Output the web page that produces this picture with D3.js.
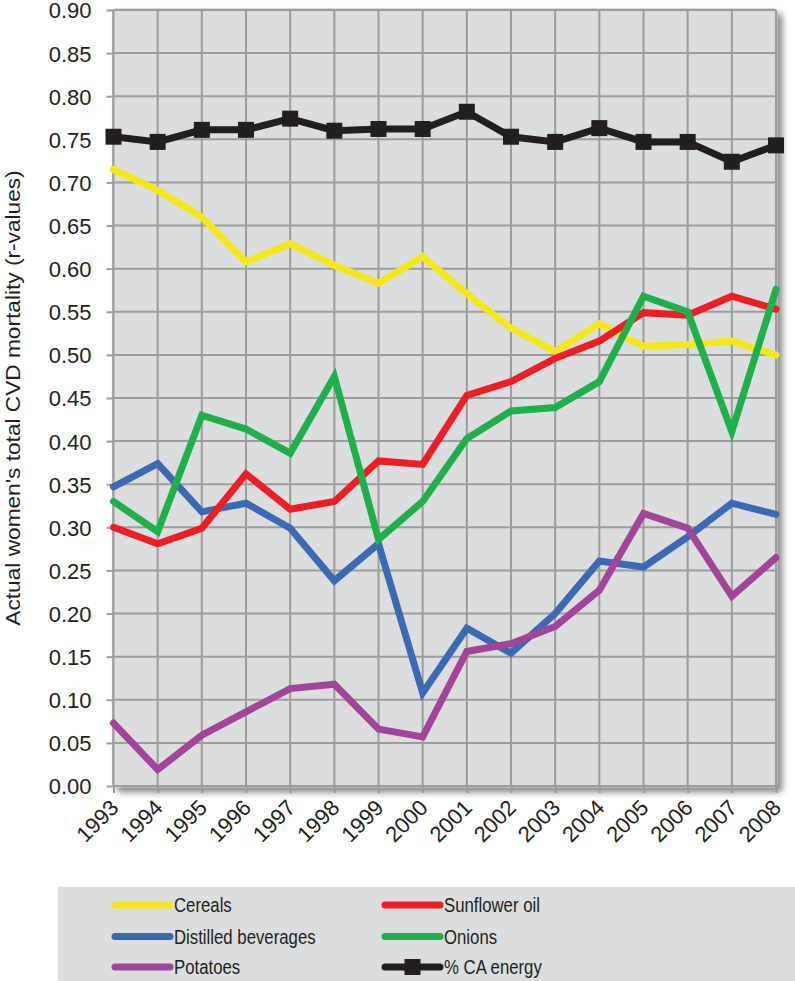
<!DOCTYPE html>
<html>
<head>
<meta charset="utf-8">
<script src="https://cdn.jsdelivr.net/npm/d3@7"></script>
<style>
  html, body { margin: 0; padding: 0; background: #ffffff; }
  svg { display: block; }
  text { font-family: "Liberation Sans", Arial, Helvetica, sans-serif; fill: #231f20; }
</style>
</head>
<body>
<svg id="chart" width="795" height="981"></svg>
<script>
// ---------- DATA ----------
const years = [1993, 1994, 1995, 1996, 1997, 1998, 1999, 2000, 2001, 2002, 2003, 2004, 2005, 2006, 2007, 2008];
const yTicks = [0, 0.05, 0.10, 0.15, 0.20, 0.25, 0.30, 0.35, 0.40, 0.45, 0.50, 0.55, 0.60, 0.65, 0.70, 0.75, 0.80, 0.85, 0.90];

const cereals      = [0.715, 0.691, 0.660, 0.608, 0.629, 0.604, 0.583, 0.614, 0.571, 0.531, 0.504, 0.536, 0.510, 0.512, 0.516, 0.500];
const distilled    = [0.347, 0.374, 0.318, 0.328, 0.299, 0.238, 0.281, 0.108, 0.183, 0.154, 0.200, 0.261, 0.254, 0.289, 0.328, 0.315];
const sunflower    = [0.300, 0.281, 0.299, 0.362, 0.321, 0.330, 0.377, 0.373, 0.453, 0.469, 0.496, 0.516, 0.549, 0.546, 0.568, 0.553];
const onions       = [0.330, 0.295, 0.430, 0.414, 0.386, 0.475, 0.286, 0.330, 0.403, 0.435, 0.439, 0.469, 0.568, 0.550, 0.411, 0.576];
const potatoes     = [0.073, 0.019, 0.059, 0.086, 0.113, 0.118, 0.066, 0.057, 0.156, 0.165, 0.185, 0.227, 0.316, 0.299, 0.220, 0.265];
const caEnergy     = [0.753, 0.747, 0.761, 0.761, 0.774, 0.760, 0.762, 0.762, 0.782, 0.753, 0.747, 0.763, 0.747, 0.747, 0.724, 0.743];

const seriesNames  = ["Cereals", "Distilled beverages", "Sunflower oil", "Onions", "Potatoes", "% CA energy"];
const seriesColors = ["#f4e81c", "#3c69b4", "#ec1e26", "#1faf4b", "#a3449b", "#231f20"];
const seriesValues = [cereals, distilled, sunflower, onions, potatoes, caEnergy];
const yTitle = "Actual women's total CVD mortality (r-values)";

// ---------- LAYOUT ----------
const svg = d3.select("#chart");
const L = 113.5, R = 776, T = 10, B = 786;

const x = d3.scalePoint().domain(years).range([L, R]);
const y = d3.scaleLinear().domain([0, 0.9]).range([B, T]);

const defs = svg.append("defs");
const f = defs.append("filter").attr("id", "shadow")
  .attr("x", "-5%").attr("y", "-5%").attr("width", "115%").attr("height", "115%");
f.append("feDropShadow").attr("dx", 5).attr("dy", 5).attr("stdDeviation", 3)
  .attr("flood-color", "#000").attr("flood-opacity", 0.45);

// plot background
svg.append("rect")
  .attr("x", L - 1).attr("y", T - 1).attr("width", R - L + 2).attr("height", B - T + 2)
  .attr("rx", 3)
  .attr("fill", "#dcdddf").attr("stroke", "#b9babc").attr("stroke-width", 1)
  .attr("filter", "url(#shadow)");

const gridColor = "#9c9c9c";

// horizontal grid
svg.append("g").selectAll("line").data(yTicks).join("line")
  .attr("x1", L).attr("x2", R)
  .attr("y1", d => y(d)).attr("y2", d => y(d))
  .attr("stroke", gridColor).attr("stroke-width", 2);

// vertical grid
svg.append("g").selectAll("line").data(years).join("line")
  .attr("x1", d => x(d)).attr("x2", d => x(d))
  .attr("y1", T).attr("y2", B)
  .attr("stroke", gridColor).attr("stroke-width", 2);

// Y axis
const yAxis = svg.append("g").attr("transform", `translate(${L},0)`)
  .call(d3.axisLeft(y).tickValues(yTicks).tickFormat(d3.format(".2f")).tickSize(7).tickPadding(15));
yAxis.select(".domain").remove();
yAxis.selectAll(".tick line").attr("stroke", gridColor).attr("stroke-width", 2);
yAxis.selectAll(".tick text").attr("font-size", 22).attr("fill", "#231f20")
  .style("font-family", "'Liberation Sans', Arial, sans-serif").attr("dy", "0.36em");

// X axis
const xAxis = svg.append("g").attr("transform", `translate(0,${B})`)
  .call(d3.axisBottom(x).tickSize(7).tickFormat(d => String(d)));
xAxis.select(".domain").remove();
xAxis.selectAll(".tick line").attr("stroke", gridColor).attr("stroke-width", 2);
xAxis.selectAll(".tick text")
  .attr("x", 0).attr("y", 0).attr("dy", 0)
  .attr("text-anchor", "end")
  .attr("transform", "translate(6,23) rotate(-45)")
  .attr("font-size", 22).attr("fill", "#231f20")
  .style("font-family", "'Liberation Sans', Arial, sans-serif");

// Y title
svg.append("text")
  .attr("transform", `translate(20,${(T + B) / 2}) rotate(-90) scale(1.08,1)`)
  .attr("text-anchor", "middle")
  .attr("font-size", 21)
  .text(yTitle);

// lines
const line = d3.line().x((d, i) => x(years[i])).y(d => y(d));
seriesValues.forEach((vals, k) => {
  svg.append("path")
    .datum(vals)
    .attr("d", line)
    .attr("fill", "none")
    .attr("stroke", seriesColors[k])
    .attr("stroke-width", 7)
    .attr("stroke-linejoin", "miter")
    .attr("stroke-linecap", "round");
});

// markers on % CA energy
svg.append("g").selectAll("rect").data(caEnergy).join("rect")
  .attr("x", (d, i) => x(years[i]) - 8)
  .attr("y", d => y(d) - 8)
  .attr("width", 16).attr("height", 16)
  .attr("fill", "#231f20");

// ---------- LEGEND ----------
const lg = svg.append("g");
lg.append("rect").attr("x", 58).attr("y", 887).attr("width", 740).attr("height", 96)
  .attr("fill", "#dcdddf");

// legend order: col1 rows: Cereals, Distilled, Potatoes; col2: Sunflower, Onions, CA
const legendOrder = [0, 2, 1, 3, 4, 5];
const colX = [115, 385];
const rowY = [905, 936.5, 967];
legendOrder.forEach((k, idx) => {
  const col = idx % 2, row = Math.floor(idx / 2);
  const x0 = colX[col], yy = rowY[row];
  lg.append("line")
    .attr("x1", x0).attr("x2", x0 + 55).attr("y1", yy).attr("y2", yy)
    .attr("stroke", seriesColors[k]).attr("stroke-width", 7).attr("stroke-linecap", "round");
  if (k === 5) {
    lg.append("rect").attr("x", x0 + 27.5 - 8).attr("y", yy - 8).attr("width", 16).attr("height", 16)
      .attr("fill", seriesColors[k]);
  }
  lg.append("text")
    .attr("transform", `translate(${x0 + 59},${yy + 7}) scale(0.86,1)`)
    .attr("font-size", 19.5)
    .text(seriesNames[k]);
});
</script>
</body>
</html>
